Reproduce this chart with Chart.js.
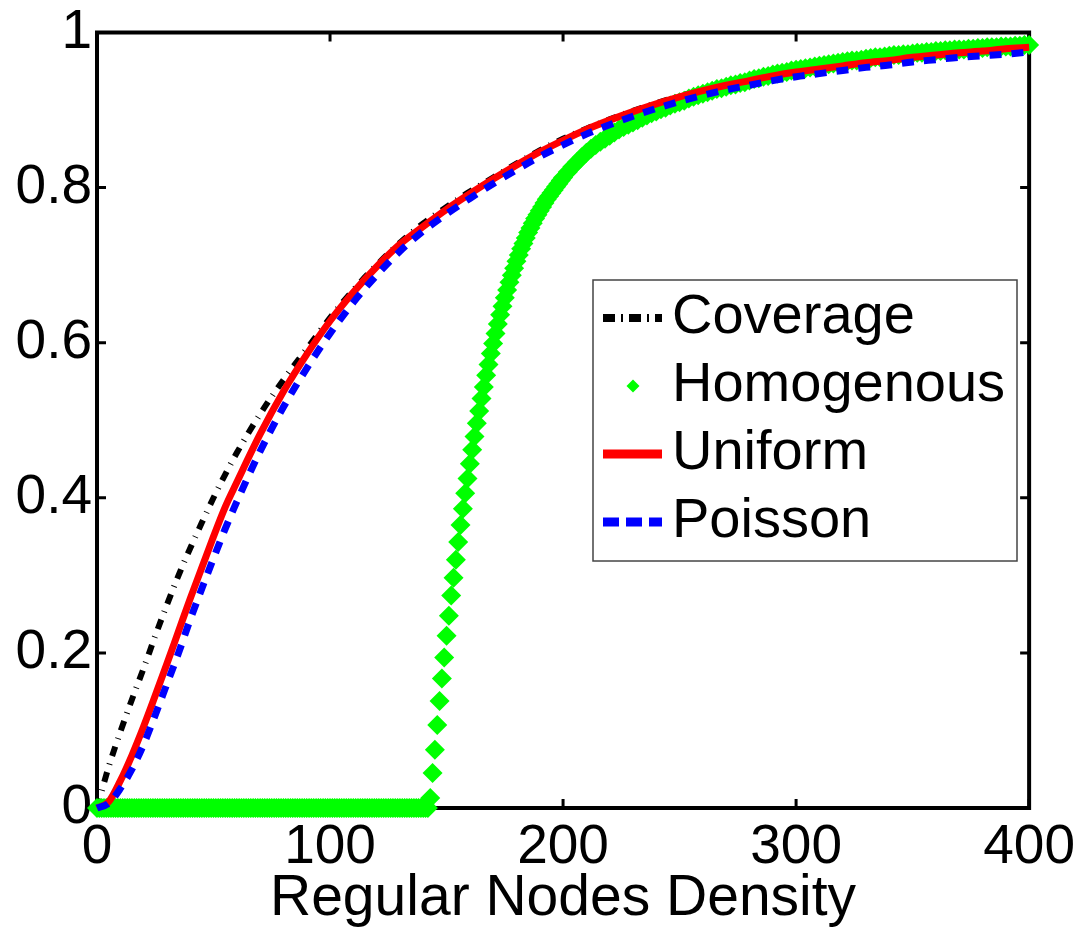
<!DOCTYPE html>
<html>
<head>
<meta charset="utf-8">
<script src="https://cdn.jsdelivr.net/npm/chart.js@4/dist/chart.umd.min.js"></script>
<style>
  html, body { margin: 0; padding: 0; background: #fff; }
  #wrap { width: 1087px; height: 931px; }
</style>
</head>
<body>
<div id="wrap"><canvas id="myChart"></canvas></div>
<script>
// x values shared by the three line series
const density = [0, 5, 10, 15, 20, 25, 30, 35, 40, 45, 50, 55, 60,
  70, 80, 90, 100, 110, 120, 130, 140, 150, 160, 170, 180, 190, 200,
  210, 220, 230, 240, 250, 260, 270, 280, 290, 300, 310, 320, 330, 340,
  350, 360, 370, 380, 390, 400];

const coverage = [0, 0.053, 0.098, 0.14, 0.18, 0.222, 0.262, 0.30, 0.335, 0.368, 0.40, 0.43, 0.458,
  0.508, 0.552, 0.592, 0.632, 0.668, 0.70, 0.729, 0.754, 0.775, 0.795, 0.813, 0.831, 0.848, 0.863,
  0.876, 0.888, 0.899, 0.909, 0.918, 0.926, 0.933, 0.939, 0.945, 0.950, 0.954, 0.958, 0.962, 0.965,
  0.968, 0.971, 0.974, 0.976, 0.979, 0.981];

const uniform = [0, 0.008, 0.035, 0.068, 0.105, 0.145, 0.186, 0.228, 0.270, 0.310, 0.350, 0.388, 0.420,
  0.482, 0.537, 0.585, 0.628, 0.665, 0.698, 0.727, 0.750, 0.772, 0.792, 0.811, 0.829, 0.846, 0.861,
  0.875, 0.887, 0.898, 0.908, 0.917, 0.925, 0.932, 0.938, 0.944, 0.949, 0.953, 0.957, 0.961, 0.964,
  0.968, 0.971, 0.974, 0.976, 0.979, 0.981];

const poisson = [0, 0.006, 0.025, 0.05, 0.082, 0.12, 0.16, 0.20, 0.243, 0.283, 0.322, 0.36, 0.395,
  0.46, 0.517, 0.567, 0.612, 0.652, 0.687, 0.718, 0.744, 0.766, 0.786, 0.805, 0.823, 0.840, 0.855,
  0.869, 0.881, 0.892, 0.902, 0.911, 0.919, 0.926, 0.932, 0.938, 0.943, 0.947, 0.951, 0.955, 0.958,
  0.962, 0.965, 0.968, 0.970, 0.972, 0.975];

// homogenous is plotted as markers, so it has its own x values
const homDensity = [
  0, 1, 2, 3, 4, 5, 6, 7, 8, 9, 10, 11, 12, 13, 14, 15, 16, 17, 18, 19, 20, 21, 22, 23,
  24, 25, 26, 27, 28, 29, 30, 31, 32, 33, 34, 35, 36, 37, 38, 39, 40, 41, 42, 43, 44, 45, 46, 47,
  48, 49, 50, 51, 52, 53, 54, 55, 56, 57, 58, 59, 60, 61, 62, 63, 64, 65, 66, 67, 68, 69, 70, 71,
  72, 73, 74, 75, 76, 77, 78, 79, 80, 81, 82, 83, 84, 85, 86, 87, 88, 89, 90, 91, 92, 93, 94, 95,
  96, 97, 98, 99, 100, 101, 102, 103, 104, 105, 106, 107, 108, 109, 110, 111, 112, 113, 114, 115,
  116, 117, 118, 119, 120, 121, 122, 123, 124, 125, 126, 127, 128, 129, 130, 131, 132, 133, 134,
  135, 136, 137, 138, 139, 140, 141, 142,
  143, 144, 145, 146, 147, 148, 149, 150, 151, 152, 153, 154, 155, 156, 157, 158, 159, 160,
  161, 162, 163, 164, 165, 166, 167, 168, 169, 170, 171, 172, 173, 174, 175, 176, 177, 178,
  179, 180, 181, 182, 183, 184, 185, 186, 187, 188, 189, 190, 191, 192, 193, 194, 195, 196,
  197, 198, 199, 200,
  202, 204, 206, 208, 210, 212, 214, 216, 218, 220, 222, 224, 226, 228, 230, 232, 234, 236,
  238, 240, 242, 244, 246, 248, 250, 252, 254, 256, 258, 260, 262, 264, 266, 268, 270, 272,
  274, 276, 278, 280, 282, 284, 286, 288, 290, 292, 294, 296, 298, 300, 302, 304, 306, 308,
  310, 312, 314, 316, 318, 320, 322, 324, 326, 328, 330, 332, 334, 336, 338, 340, 342, 344,
  346, 348, 350, 352, 354, 356, 358, 360, 362, 364, 366, 368, 370, 372, 374, 376, 378, 380,
  382, 384, 386, 388, 390, 392, 394, 396, 398, 400];

const homogenous = [
  0, 0, 0, 0, 0, 0, 0, 0, 0, 0, 0, 0, 0, 0, 0, 0, 0, 0, 0, 0, 0, 0, 0, 0,
  0, 0, 0, 0, 0, 0, 0, 0, 0, 0, 0, 0, 0, 0, 0, 0, 0, 0, 0, 0, 0, 0, 0, 0,
  0, 0, 0, 0, 0, 0, 0, 0, 0, 0, 0, 0, 0, 0, 0, 0, 0, 0, 0, 0, 0, 0, 0, 0,
  0, 0, 0, 0, 0, 0, 0, 0, 0, 0, 0, 0, 0, 0, 0, 0, 0, 0, 0, 0, 0, 0, 0, 0,
  0, 0, 0, 0, 0, 0, 0, 0, 0, 0, 0, 0, 0, 0, 0, 0, 0, 0, 0, 0,
  0, 0, 0, 0, 0, 0, 0, 0, 0, 0, 0, 0, 0, 0, 0, 0, 0, 0, 0,
  0, 0, 0, 0, 0, 0, 0, 0,
  0.013, 0.045, 0.075, 0.107, 0.138, 0.167, 0.194, 0.222, 0.248, 0.274, 0.297, 0.320, 0.343, 0.365,
  0.386, 0.406, 0.425, 0.444, 0.462, 0.479, 0.496, 0.512, 0.528, 0.543, 0.558, 0.572, 0.586, 0.599,
  0.612, 0.624, 0.636, 0.647, 0.658, 0.668, 0.678, 0.687, 0.696, 0.705, 0.713, 0.721, 0.728, 0.735,
  0.742, 0.748, 0.754, 0.760, 0.765, 0.770, 0.775, 0.780, 0.785, 0.789, 0.793, 0.797, 0.801, 0.805,
  0.809, 0.813,
  0.820, 0.827, 0.833, 0.839, 0.845, 0.850, 0.855, 0.859, 0.863, 0.867, 0.871, 0.875, 0.878, 0.881,
  0.884, 0.887, 0.890, 0.893, 0.896, 0.898, 0.901, 0.903, 0.906, 0.908, 0.910, 0.912, 0.915, 0.917,
  0.919, 0.921, 0.923, 0.925, 0.927, 0.928, 0.930, 0.932, 0.933, 0.935, 0.936, 0.938, 0.940, 0.941,
  0.943, 0.944, 0.946, 0.947, 0.948, 0.949, 0.951, 0.952, 0.953, 0.954, 0.955, 0.956, 0.957, 0.958,
  0.959, 0.960, 0.961, 0.962, 0.963, 0.964, 0.964, 0.965, 0.966, 0.967, 0.968, 0.968, 0.969, 0.970,
  0.971, 0.971, 0.972, 0.972, 0.973, 0.974, 0.974, 0.975, 0.975, 0.976, 0.976, 0.977, 0.977, 0.978,
  0.978, 0.978, 0.979, 0.979, 0.980, 0.980, 0.981, 0.981, 0.981, 0.982, 0.982, 0.982, 0.983, 0.983,
  0.984, 0.984];

const FONT = "'Liberation Sans', Arial, sans-serif";

const toPoints = (xs, ys) => xs.map((x, i) => ({ x: x, y: ys[i] }));

// inside ticks on all four sides + the box, drawn under the data
const frame = {
  id: 'frame',
  beforeDatasetsDraw(chart) {
    const { ctx, chartArea: a, scales: { x, y } } = chart;
    ctx.save();
    ctx.strokeStyle = '#000';
    ctx.lineWidth = 3;
    ctx.beginPath();
    x.ticks.forEach((t) => {
      const px = x.getPixelForValue(t.value);
      ctx.moveTo(px, a.bottom); ctx.lineTo(px, a.bottom - 9);
      ctx.moveTo(px, a.top); ctx.lineTo(px, a.top + 9);
    });
    y.ticks.forEach((t) => {
      const py = y.getPixelForValue(t.value);
      ctx.moveTo(a.left, py); ctx.lineTo(a.left + 9, py);
      ctx.moveTo(a.right, py); ctx.lineTo(a.right - 9, py);
    });
    ctx.stroke();
    ctx.lineWidth = 4;
    ctx.strokeRect(a.left, a.top, a.right - a.left, a.bottom - a.top);
    ctx.restore();
  },
  afterDatasetsDraw(chart) {
    // legend box inside the plot, matlab style
    const { ctx } = chart;
    const box = { left: 593, top: 280, width: 424, height: 281 };
    ctx.save();
    ctx.fillStyle = '#fff';
    ctx.fillRect(box.left, box.top, box.width, box.height);
    ctx.strokeStyle = '#444';
    ctx.lineWidth = 1.5;
    ctx.strokeRect(box.left, box.top, box.width, box.height);
    ctx.font = '56px ' + FONT;
    ctx.textBaseline = 'middle';
    ctx.textAlign = 'left';
    chart.data.datasets.forEach((ds, i) => {
      const cy = box.top + 38 + i * 68;
      if (ds.showLine === false) {
        const cx = box.left + 40, r = 6.5;
        ctx.fillStyle = ds.pointBackgroundColor;
        ctx.beginPath();
        ctx.moveTo(cx, cy - r); ctx.lineTo(cx + r, cy); ctx.lineTo(cx, cy + r); ctx.lineTo(cx - r, cy);
        ctx.closePath();
        ctx.fill();
      } else {
        ctx.strokeStyle = ds.borderColor;
        ctx.lineWidth = ds.borderWidth + 2;
        ctx.setLineDash(ds.legendDash || []);
        ctx.beginPath();
        ctx.moveTo(box.left + 10, cy); ctx.lineTo(box.left + 69, cy);
        ctx.stroke();
        ctx.setLineDash([]);
      }
      ctx.fillStyle = '#000';
      ctx.fillText(ds.label, box.left + 79, cy);
    });
    ctx.restore();
  }
};

new Chart(document.getElementById('myChart'), {
  type: 'line',
  data: {
    datasets: [
      {
        label: 'Coverage',
        data: toPoints(density, coverage),
        borderColor: '#000',
        borderWidth: 6,
        borderDash: [10, 8, 1, 8],
        legendDash: [12, 6, 2, 6],
        pointRadius: 0,
        cubicInterpolationMode: 'monotone',
        clip: false,
        order: 4,
      },
      {
        label: 'Homogenous',
        data: toPoints(homDensity, homogenous),
        showLine: false,
        pointStyle: 'rectRot',
        pointRadius: 10,
        pointBorderWidth: 0,
        pointBackgroundColor: '#00ff00',
        pointBorderColor: '#00ff00',
        clip: false,
        order: 3,
      },
      {
        label: 'Uniform',
        data: toPoints(density, uniform),
        borderColor: '#ff0000',
        borderWidth: 7,
        pointRadius: 0,
        cubicInterpolationMode: 'monotone',
        clip: false,
        order: 2,
      },
      {
        label: 'Poisson',
        data: toPoints(density, poisson),
        borderColor: '#0000ff',
        borderWidth: 7,
        borderDash: [12, 10],
        legendDash: [16, 7],
        pointRadius: 0,
        cubicInterpolationMode: 'monotone',
        clip: false,
        order: 1,
      },
    ],
  },
  options: {
    responsive: true,
    maintainAspectRatio: false,
    animation: false,
    layout: { padding: { left: 0, right: 54, top: 30, bottom: 0 } },
    plugins: {
      legend: { display: false },
      tooltip: { enabled: false },
    },
    scales: {
      x: {
        type: 'linear',
        min: 0,
        max: 400,
        grid: { display: false, drawTicks: false },
        border: { display: false },
        ticks: {
          stepSize: 100,
          maxRotation: 0,
          padding: 12,
          color: '#000',
          font: { family: FONT, size: 55, lineHeight: 1 },
        },
        title: {
          display: true,
          text: 'Regular Nodes Density',
          color: '#000',
          padding: { top: 0, bottom: 0 },
          font: { family: FONT, size: 57, lineHeight: 1.1 },
        },
        afterFit: (scale) => { scale.height = 123; },
      },
      y: {
        min: 0,
        max: 1,
        grid: { display: false, drawTicks: false },
        border: { display: false },
        ticks: {
          stepSize: 0.2,
          padding: 5,
          color: '#000',
          font: { family: FONT, size: 55, lineHeight: 1 },
          callback: (v) => String(Math.round(v * 10) / 10),
        },
        afterFit: (scale) => { scale.width = 97; },
      },
    },
  },
  plugins: [frame],
});
</script>
</body>
</html>
